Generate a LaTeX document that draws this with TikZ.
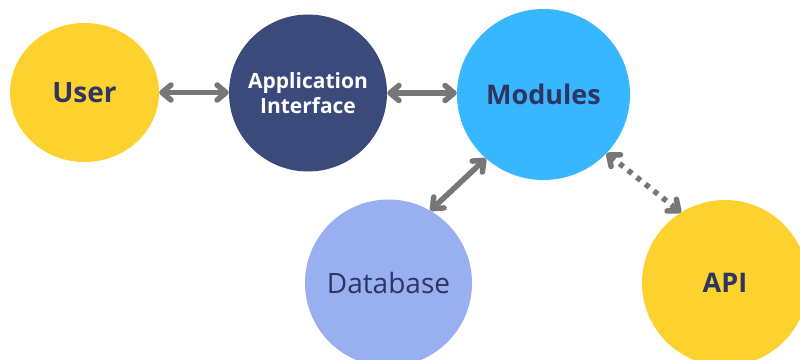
\documentclass[tikz,border=0pt]{standalone}
\usepackage{fontspec}
\setmainfont{Open Sans}
\usetikzlibrary{arrows.meta,shapes.geometric}

\definecolor{sunyellow}{HTML}{FDD22E}
\definecolor{deepnavy}{HTML}{3A4A7A}
\definecolor{skyblue}{HTML}{38B6FF}
\definecolor{periwinkle}{HTML}{98B0F0}
\definecolor{inkblue}{HTML}{2E3561}
\definecolor{linkgray}{HTML}{777777}

\tikzset{
  blob/.style={ellipse, inner sep=-14pt, draw=none, align=center},
  link/.style={draw=linkgray, line width=5.5pt, line cap=round,
    {Straight Barb[round,length=9pt,width=15pt]}-{Straight Barb[round,length=9pt,width=15pt]}},
  dotlink/.style={link, dash pattern=on 5pt off 6pt, line cap=butt},
}

\begin{document}
\begin{tikzpicture}[x=1pt,y=-1pt]
  \useasboundingbox (0,0) rectangle (800,359);

  % nodes
  \node[blob, fill=sunyellow, minimum width=149pt, minimum height=139pt,
        text=inkblue, font=\fontsize{28}{30}\selectfont\bfseries] (user) at (84.5,92.5) {User};
  \node[blob, fill=deepnavy, minimum width=158pt, minimum height=157pt,
        text=white, font=\fontsize{21}{25}\selectfont\bfseries] (app) at (308,93) {Application\\Interface};
  \node[blob, fill=skyblue, minimum width=173pt, minimum height=171pt,
        text=inkblue, font=\fontsize{27}{30}\selectfont\bfseries] (mod) at (543.5,94.5) {Modules};
  \node[blob, fill=periwinkle, minimum width=167pt, minimum height=167pt,
        text=inkblue, font=\fontsize{28}{30}\selectfont] (db) at (388.5,283) {Database};
  \node[blob, fill=sunyellow, minimum width=166pt, minimum height=166pt,
        text=inkblue, font=\fontsize{27}{30}\selectfont\bfseries] (api) at (725,283) {API};

  % connectors
  \draw[link] (user.east) -- (user.east -| app.west);
  \draw[link] (app.east) -- (app.east -| mod.west);
  \draw[link] (mod.228) -- (db.60);
  \draw[dotlink] (mod.-43) -- (api.122);
\end{tikzpicture}
\end{document}
